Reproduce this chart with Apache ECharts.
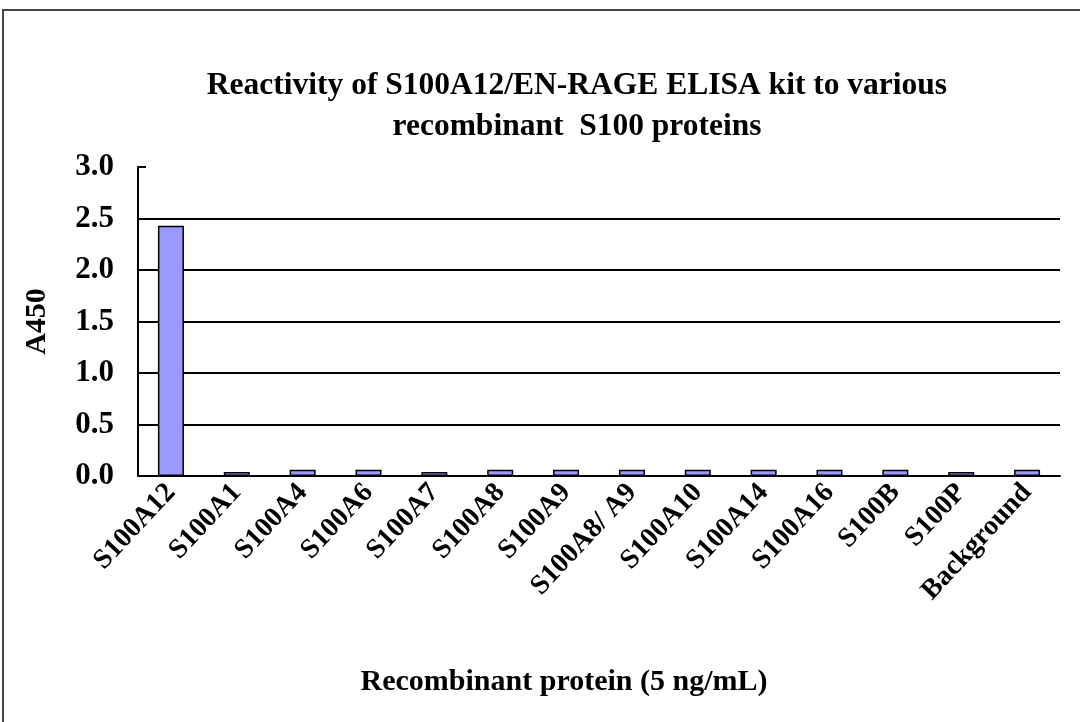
<!DOCTYPE html>
<html>
<head>
<meta charset="utf-8">
<script src="https://cdn.jsdelivr.net/npm/echarts@6/dist/echarts.min.js"></script>
<style>
  html, body { margin: 0; padding: 0; background: #fff; }
  #container { width: 1080px; height: 722px; }
</style>
</head>
<body>
<div id="container"></div>
<script>
// values
var categories = ['S100A12', 'S100A1', 'S100A4', 'S100A6', 'S100A7', 'S100A8', 'S100A9',
  'S100A8/ A9', 'S100A10', 'S100A14', 'S100A16', 'S100B', 'S100P', 'Background'];
var a450 = [2.43, 0.04, 0.06, 0.06, 0.04, 0.06, 0.06, 0.06, 0.06, 0.06, 0.06, 0.06, 0.04, 0.06];
var yTicks = [0, 0.5, 1.0, 1.5, 2.0, 2.5, 3.0];

var serif = "'Liberation Serif', 'Times New Roman', serif";

let option = {
  animation: false,
  backgroundColor: '#fff',
  title: {
    text: 'Reactivity of S100A12/EN-RAGE ELISA kit to various\nrecombinant  S100 proteins',
    left: 572,
    textAlign: 'center',
    top: 60,
    textStyle: {
      fontFamily: serif,
      fontWeight: 'bold',
      fontSize: 31.5,
      lineHeight: 41,
      color: '#000'
    }
  },
  graphic: [{
    type: 'rect',
    shape: { x: 3, y: 10, width: 1100, height: 740 },
    style: { fill: 'none', stroke: '#444', lineWidth: 2 },
    silent: true
  }],
  grid: {
    left: 138,
    right: 20,
    top: 167,
    bottom: 246
  },
  xAxis: {
    type: 'category',
    data: categories,
    name: 'Recombinant protein (5 ng/mL)',
    nameLocation: 'middle',
    nameGap: 191,
    nameTextStyle: {
      fontFamily: serif,
      fontWeight: 'bold',
      fontSize: 30,
      color: '#000',
      padding: [0, 70, 0, 0]
    },
    axisLine: { lineStyle: { color: '#000', width: 2 } },
    axisTick: { inside: true, length: 8, lineStyle: { color: '#000', width: 2 } },
    axisLabel: {
      interval: 0,
      rotate: 47,
      margin: 12,
      fontFamily: serif,
      fontWeight: 'bold',
      fontSize: 28,
      color: '#000'
    },
    splitLine: { show: false }
  },
  yAxis: {
    type: 'value',
    min: 0,
    max: 3,
    interval: 0.5,
    name: 'A450',
    nameLocation: 'middle',
    nameGap: 86,
    nameTextStyle: {
      fontFamily: serif,
      fontWeight: 'bold',
      fontSize: 30,
      color: '#000'
    },
    axisLine: { show: true, lineStyle: { color: '#000', width: 2 } },
    axisTick: { show: true, inside: true, length: 8, lineStyle: { color: '#000', width: 2 } },
    axisLabel: {
      margin: 24,
      fontFamily: serif,
      fontWeight: 'bold',
      fontSize: 31,
      color: '#000',
      formatter: function (v) { return v.toFixed(1); }
    },
    splitLine: {
      show: true,
      lineStyle: {
        width: 2,
        // no gridline on the top (3.0) tick
        color: yTicks.map(function (t) { return t === 3 ? 'rgba(0,0,0,0)' : '#000'; })
      }
    }
  },
  series: [{
    type: 'bar',
    data: a450,
    barWidth: 26,
    itemStyle: {
      color: '#9999ff',
      borderColor: '#000',
      borderWidth: 1.5
    }
  }]
};

var myChart = window.echarts.init(document.getElementById('container'), null, { renderer: 'canvas' });
myChart.setOption(option);
</script>
</body>
</html>
